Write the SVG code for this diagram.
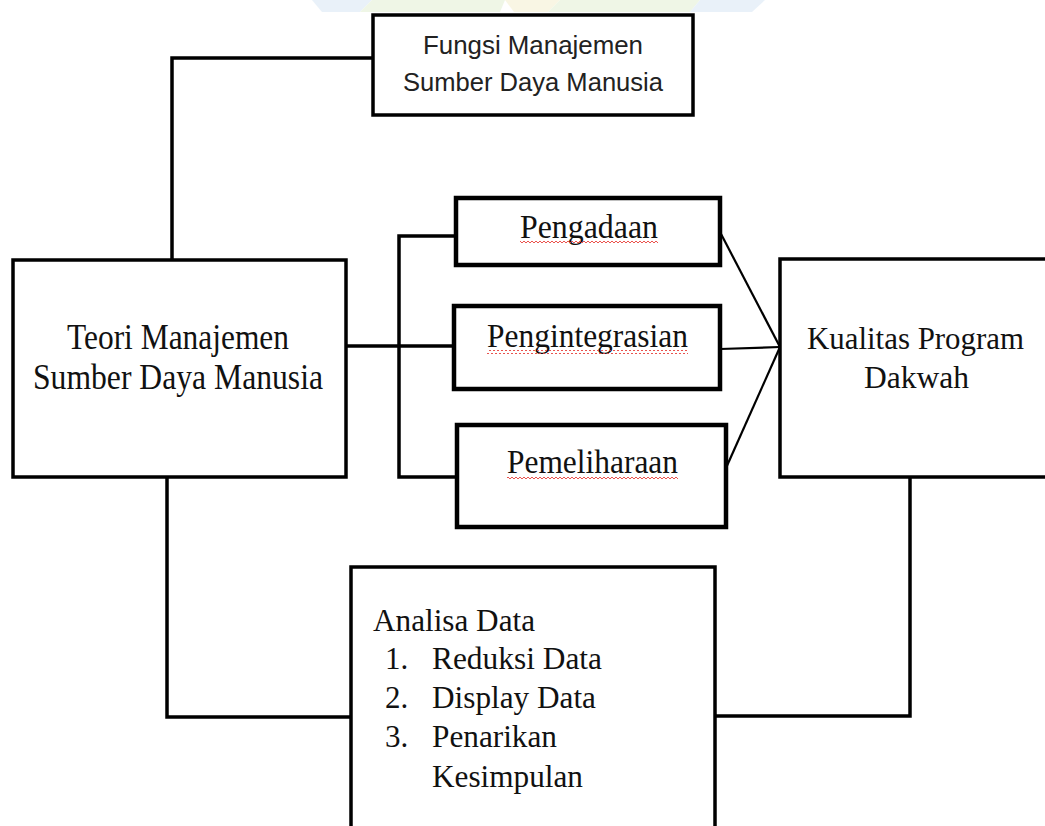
<svg xmlns="http://www.w3.org/2000/svg" width="1045" height="826" viewBox="0 0 1045 826">
<style>
.box{fill:#fff;stroke:#000;stroke-width:3.5}
.thick{stroke-width:4.5}
.con{fill:none;stroke:#000;stroke-width:3.5}
.diag{fill:none;stroke:#000;stroke-width:2.2}
.tnr{font-family:"Liberation Serif","Times New Roman",serif;fill:#111}
.cal{font-family:"Liberation Sans Narrow","Liberation Sans",Arial,sans-serif;fill:#222}
</style>
<defs>
<pattern id="wavy" width="4" height="4" patternUnits="userSpaceOnUse">
<path d="M0,1 L2,3 L4,1" fill="none" stroke="#e8403a" stroke-width="0.9"/>
</pattern>
</defs>
<rect width="1045" height="826" fill="#fff"/>
<g id="watermark" opacity="0.45">
<polygon points="312,0 372,0 360,12 322,12" fill="#cfe2f3"/>
<polygon points="372,0 505,0 500,12 360,12" fill="#dcedc8"/>
<polygon points="505,0 560,0 548,12 514,12" fill="#f2edc4"/>
<polygon points="560,0 700,0 690,12 548,12" fill="#dcedc8"/>
<polygon points="700,0 765,0 752,12 690,12" fill="#cfe2f3"/>
</g>
<g id="connectors">
<path class="con" d="M373,58 H172 V260"/>
<path class="con" d="M346,346 H455" stroke-width="4.5"/>
<path class="con" d="M456,236 H399 V477 H457"/>
<path class="diag" d="M720,232 L780,347"/>
<path class="diag" d="M720,349 L780,347"/>
<path class="diag" d="M726,468 L780,347"/>
<path class="con" d="M167,477 V717 H351"/>
<path class="con" d="M715,716 H910 V477"/>
</g>
<g id="fungsi">
<rect class="box" x="373" y="15" width="320" height="100"/>
<text class="cal" x="533" y="54" font-size="25" text-anchor="middle" textLength="220" lengthAdjust="spacingAndGlyphs">Fungsi Manajemen</text>
<text class="cal" x="533" y="91" font-size="25" text-anchor="middle" textLength="260" lengthAdjust="spacingAndGlyphs">Sumber Daya Manusia</text>
</g>
<g id="teori">
<rect class="box" x="13" y="260" width="333" height="217"/>
<text class="tnr" x="178" y="349" font-size="35" text-anchor="middle" textLength="222" lengthAdjust="spacingAndGlyphs">Teori Manajemen</text>
<text class="tnr" x="178" y="389" font-size="35" text-anchor="middle" textLength="290" lengthAdjust="spacingAndGlyphs">Sumber Daya Manusia</text>
</g>
<g id="pengadaan">
<rect class="box thick" x="456" y="198" width="264" height="67"/>
<text class="tnr" x="520" y="238" font-size="33" textLength="138" lengthAdjust="spacingAndGlyphs">Pengadaan</text>
<rect x="520" y="241" width="138" height="4" fill="url(#wavy)"/>
</g>
<g id="pengintegrasian">
<rect class="box thick" x="454" y="306" width="266" height="83"/>
<text class="tnr" x="487" y="347" font-size="33" textLength="201" lengthAdjust="spacingAndGlyphs">Pengintegrasian</text>
<rect x="487" y="350" width="201" height="4" fill="url(#wavy)"/>
</g>
<g id="pemeliharaan">
<rect class="box thick" x="457" y="425" width="269" height="102"/>
<text class="tnr" x="507" y="473" font-size="33" textLength="171" lengthAdjust="spacingAndGlyphs">Pemeliharaan</text>
<rect x="507" y="476" width="171" height="4" fill="url(#wavy)"/>
</g>
<g id="kualitas">
<rect class="box" x="780" y="259" width="275" height="218"/>
<text class="tnr" x="807" y="349" font-size="31" textLength="217" lengthAdjust="spacingAndGlyphs">Kualitas Program</text>
<text class="tnr" x="864" y="388" font-size="31" textLength="105" lengthAdjust="spacingAndGlyphs">Dakwah</text>
</g>
<g id="analisa">
<rect class="box" x="351" y="567" width="364" height="280"/>
<text class="tnr" x="373" y="631" font-size="31" textLength="162" lengthAdjust="spacingAndGlyphs">Analisa Data</text>
<text class="tnr" x="385" y="669" font-size="31">1.</text>
<text class="tnr" x="432" y="669" font-size="31" textLength="170" lengthAdjust="spacingAndGlyphs">Reduksi Data</text>
<text class="tnr" x="385" y="708" font-size="31">2.</text>
<text class="tnr" x="432" y="708" font-size="31" textLength="164" lengthAdjust="spacingAndGlyphs">Display Data</text>
<text class="tnr" x="385" y="747" font-size="31">3.</text>
<text class="tnr" x="432" y="747" font-size="31" textLength="125" lengthAdjust="spacingAndGlyphs">Penarikan</text>
<text class="tnr" x="432" y="787" font-size="31" textLength="151" lengthAdjust="spacingAndGlyphs">Kesimpulan</text>
</g>
</svg>
